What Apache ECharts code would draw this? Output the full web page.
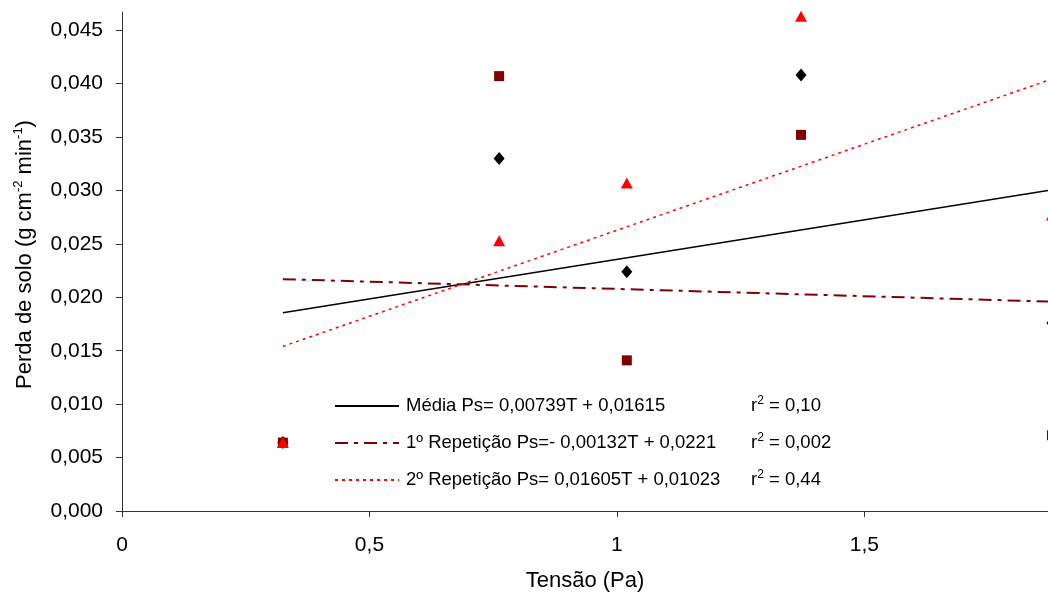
<!DOCTYPE html>
<html>
<head>
<meta charset="utf-8">
<script src="https://cdn.jsdelivr.net/npm/echarts@6/dist/echarts.min.js"></script>
<style>
html, body { margin: 0; padding: 0; background: #fff; }
#chart { width: 1048px; height: 597px; }
</style>
</head>
<body>
<div id="chart"></div>
<script>
// dados
let tensao = [0.325, 0.762, 1.02, 1.372, 1.879]
let media = [0.0064, 0.0330, 0.0224, 0.0408, 0.0176]
let rep1 = [0.0064, 0.0407, 0.0141, 0.0352, 0.0071]
let rep2 = [0.0064, 0.0253, 0.0307, 0.0463, 0.0277]

// extremos das retas de regressão
let lineX = [0.325, 1.871]
let mediaLine = [0.01855, 0.0300]
let rep1Line = [0.0217, 0.0196]
let rep2Line = [0.0154, 0.0403]

let nomes = ['Média Ps= 0,00739T + 0,01615', '1º Repetição Ps=- 0,00132T + 0,0221', '2º Repetição Ps= 0,01605T + 0,01023']
let r2 = ['0,10', '0,002', '0,44']
let yTicks = [0, 0.005, 0.01, 0.015, 0.02, 0.025, 0.03, 0.035, 0.04, 0.045]
let xTicks = [0, 0.5, 1, 1.5]

function pares(xs, ys) {
	let out = []
	for (let i = 0; i < xs.length; i++) out.push([xs[i], ys[i]])
	return out
}

let chart = echarts.init(document.getElementById('chart'))
let fonte = '"Liberation Sans", Arial, sans-serif'

let option = {
	animation: false,
	textStyle: { fontFamily: fonte },
	grid: { left: 122, top: 12, right: 0, bottom: 85 },
	legend: {
		data: nomes,
		orient: 'vertical',
		left: 334,
		top: 395,
		padding: 0,
		itemWidth: 64,
		itemHeight: 14,
		itemGap: 16.5,
		itemStyle: { opacity: 0 },
		formatter: function(name) {
			let i = nomes.indexOf(name)
			return '{p|}{a|' + name + '}{r|r}{s|2}{r| = ' + r2[i] + '}'
		},
		textStyle: {
			fontFamily: fonte,
			rich: {
				p: { width: 2 },
				a: { width: 345, fontSize: 18.5, color: '#000', lineHeight: 22, fontFamily: fonte },
				r: { fontSize: 18.5, color: '#000', lineHeight: 22, fontFamily: fonte },
				s: { fontSize: 12, color: '#000', lineHeight: 12, verticalAlign: 'top', fontFamily: fonte }
			}
		}
	},
	xAxis: {
		type: 'value',
		min: 0,
		max: 1.871,
		interval: 0.5,
		name: 'Tensão (Pa)',
		nameLocation: 'middle',
		nameGap: 59,
		nameTextStyle: { fontSize: 22, color: '#000', fontFamily: fonte },
		splitLine: { show: false },
		axisLine: { lineStyle: { color: '#333', width: 1 } },
		axisTick: { show: true, length: 6, customValues: xTicks, lineStyle: { color: '#333' } },
		axisLabel: {
			customValues: xTicks,
			fontSize: 21, color: '#000', margin: 24,
			formatter: v => String(v).replace('.', ',')
		}
	},
	yAxis: {
		type: 'value',
		min: 0,
		max: 0.0467,
		interval: 0.005,
		name: '{n|Perda de solo (g cm}{s|-2}{n| min}{s|-1}{n|)}',
		nameLocation: 'middle',
		nameGap: 84,
		nameTextStyle: {
			fontFamily: fonte,
			padding: [0, 0, 0, 14],
			rich: {
				n: { fontSize: 22, color: '#000', lineHeight: 26, fontFamily: fonte },
				s: { fontSize: 13, color: '#000', lineHeight: 13, verticalAlign: 'top', fontFamily: fonte }
			}
		},
		splitLine: { show: false },
		axisLine: { show: true, lineStyle: { color: '#333', width: 1 } },
		axisTick: { show: true, length: 6, customValues: yTicks, lineStyle: { color: '#333' } },
		axisLabel: {
			customValues: yTicks,
			fontSize: 21, color: '#000', margin: 19,
			formatter: v => v.toFixed(3).replace('.', ',')
		}
	},
	series: [{
			name: nomes[0],
			type: 'line',
			symbol: 'none',
			data: pares(lineX, mediaLine),
			lineStyle: { color: '#000', width: 1.5, type: 'solid' },
			itemStyle: { color: '#000' }
		},
		{
			name: nomes[1],
			type: 'line',
			symbol: 'none',
			data: pares(lineX, rep1Line),
			lineStyle: { color: '#800000', width: 2, type: [13, 6, 4, 6] },
			itemStyle: { color: '#800000' }
		},
		{
			name: nomes[2],
			type: 'line',
			symbol: 'none',
			data: pares(lineX, rep2Line),
			lineStyle: { color: '#ff0000', width: 1.5, type: [3, 4] },
			itemStyle: { color: '#ff0000' }
		},
		{
			name: 'Média',
			type: 'scatter',
			clip: false,
			symbol: 'diamond',
			symbolSize: [11, 13],
			data: pares(tensao, media),
			itemStyle: { color: '#000', opacity: 1 }
		},
		{
			name: '1º Repetição',
			type: 'scatter',
			clip: false,
			symbol: 'rect',
			symbolSize: 10,
			data: pares(tensao, rep1),
			itemStyle: { color: '#800000', opacity: 1 }
		},
		{
			name: '2º Repetição',
			type: 'scatter',
			clip: false,
			symbol: 'triangle',
			symbolSize: [12, 11],
			data: pares(tensao, rep2),
			itemStyle: { color: '#ff0000', opacity: 1 }
		}
	]
}

chart.setOption(option)
</script>
</body>
</html>
